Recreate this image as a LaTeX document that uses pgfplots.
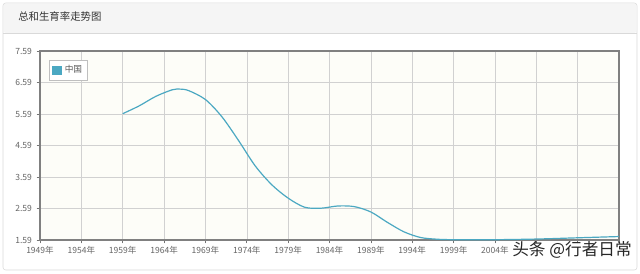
\documentclass[border=0pt]{standalone}
\usepackage{pgfplots}
\pgfplotsset{compat=1.18}
\usepackage{fontspec}
\setmainfont{Noto Sans CJK SC}
\definecolor{tfr}{HTML}{4BA8C2}
\definecolor{plotbg}{HTML}{FDFDF8}
\definecolor{tickc}{HTML}{666666}
\begin{document}
\begin{tikzpicture}[x=0.75pt,y=0.75pt]
\path[use as bounding box] (0,0) rectangle (640,273);
\draw[draw=black!15, fill=white, rounded corners=2] (3,3) rectangle (637,270);
\fill[black!4, rounded corners=2] (3.5,240) rectangle (636.5,269.5);
\draw[black!15] (3,240) -- (637,240);
\node[anchor=west, font=\fontsize{7.8}{9}\selectfont, text=black!80, inner sep=0] at (18,256) {总和生育率走势图};
\begin{axis}[
  at={(30pt,24.75pt)}, anchor=south west,
  scale only axis, width=434.25pt, height=141.75pt,
  xmin=1949, xmax=2019, ymin=1.59, ymax=7.59,
  xtick={1949,1954,...,2019},
  xticklabels={1949年,1954年,1959年,1964年,1969年,1974年,1979年,1984年,1989年,1994年,1999年,2004年,,,},
  ytick={1.59,2.59,3.59,4.59,5.59,6.59,7.59},
  yticklabels={1.59,2.59,3.59,4.59,5.59,6.59,7.59},
  tick align=outside, major tick length=2.5pt,
  tick style={black!55, line width=0.5pt},
  xtick pos=bottom, ytick pos=left,
  ticklabel style={font=\fontsize{6.4}{7}\selectfont, text=tickc},
  xticklabel style={yshift=1pt},
  grid=major, major grid style={black!18, line width=0.4pt},
  axis background/.style={fill=plotbg},
  axis line style={draw=black!50, line width=0.8pt},
  /pgf/number format/assume math mode=true,
  legend style={at={(0.015,0.952)}, anchor=north west, draw=black!25, fill=white,
    font=\fontsize{6.5}{7}\selectfont, text=black!65, inner xsep=2pt, inner ysep=2pt,
    row sep=0pt},
  legend image code/.code={\fill[tfr] (0pt,-3pt) rectangle (7pt,3pt);},
  legend cell align=left,
]
\addplot[smooth, tfr, line width=0.9pt] coordinates {
(1959,5.60) (1961,5.85) (1963,6.15) (1965,6.36) (1966,6.38) (1967,6.33)
(1969,6.05) (1971,5.50) (1973,4.75) (1975,3.95) (1977,3.35) (1979,2.92)
(1981,2.63) (1983,2.60) (1985,2.67) (1987,2.65) (1989,2.48) (1991,2.15)
(1993,1.85) (1995,1.67) (1997,1.615) (1999,1.60) (2004,1.60) (2009,1.62)
(2014,1.66) (2019,1.70)
};
\addlegendentry{中国}
\end{axis}
\node[anchor=center, font=\fontsize{12.5}{13}\selectfont, text=black!85] at (572,23) {头条 @行者日常};
\end{tikzpicture}
\end{document}
